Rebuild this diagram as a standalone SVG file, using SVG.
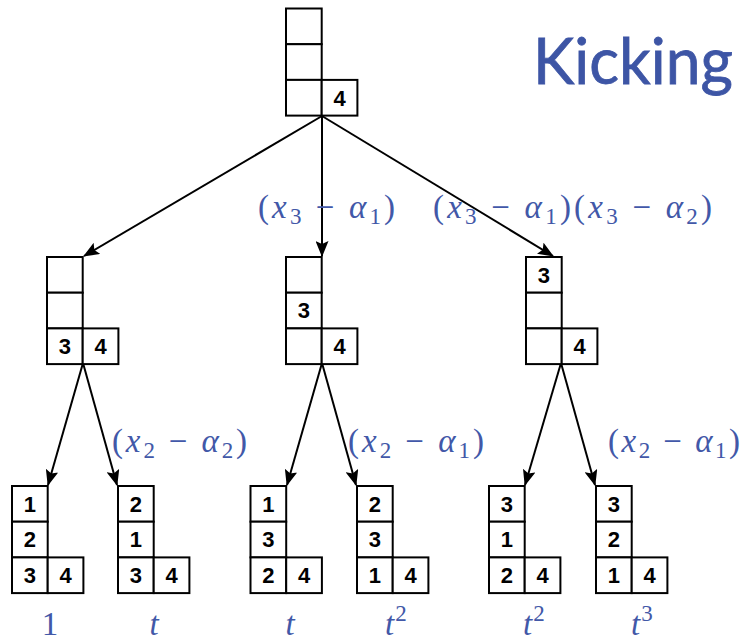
<svg xmlns="http://www.w3.org/2000/svg" width="745" height="642" viewBox="0 0 745 642">
  <style>
    .cell { fill: #ffffff; stroke: #000000; stroke-width: 2; }
    .num { font-family: "Liberation Sans", Arial, sans-serif; font-weight: bold; font-size: 22px; fill: #000000; text-anchor: middle; }
    .edge { stroke: #000000; stroke-width: 2; fill: none; marker-end: url(#arrow); }
    .math { font-family: "Liberation Serif", "Times New Roman", serif; font-size: 33px; fill: #4258a8; }
    .it { font-style: italic; }
    .sub { font-size: 23px; }
    .title { font-family: "Lato", "Liberation Sans", sans-serif; font-size: 64px; fill: #3d55a5; stroke: #3d55a5; stroke-width: 0.8; }
  </style>
  <defs>
    <marker id="arrow" viewBox="0 0 16 13" refX="15" refY="6.5" markerWidth="16" markerHeight="13" markerUnits="userSpaceOnUse" orient="auto">
      <path d="M0,0 L16,6.5 L0,13 L3,6.5 z" fill="#000000"/>
    </marker>
    <!-- hook shape: three cells in the first column, one cell to the right of the bottom one -->
    <g id="hook">
      <rect class="cell" x="0" y="0" width="35.7" height="35.7"/>
      <rect class="cell" x="0" y="35.7" width="35.7" height="35.7"/>
      <rect class="cell" x="0" y="71.4" width="35.7" height="35.7"/>
      <rect class="cell" x="35.7" y="71.4" width="35.7" height="35.7"/>
    </g>
  </defs>

  <rect width="745" height="642" fill="#ffffff"/>

  <text class="title" x="533" y="84" textLength="200" lengthAdjust="spacingAndGlyphs">Kicking</text>

  <!-- connectors -->
  <g id="connectors">
    <line class="edge" x1="322" y1="116" x2="84" y2="256"/>
    <line class="edge" x1="322" y1="116" x2="322" y2="256"/>
    <line class="edge" x1="322" y1="116" x2="553" y2="256"/>
    <line class="edge" x1="83" y1="363" x2="48" y2="485"/>
    <line class="edge" x1="83" y1="363" x2="117" y2="485"/>
    <line class="edge" x1="322" y1="363" x2="287" y2="485"/>
    <line class="edge" x1="322" y1="363" x2="356" y2="485"/>
    <line class="edge" x1="561" y1="363" x2="525" y2="485"/>
    <line class="edge" x1="561" y1="363" x2="595" y2="485"/>
  </g>

  <!-- root -->
  <g id="root" transform="translate(286,8.5)">
    <use href="#hook"/>
    <text class="num" x="53.5" y="97">4</text>
  </g>

  <!-- second level -->
  <g id="mid-left" transform="translate(47,257)">
    <use href="#hook"/>
    <text class="num" x="17.8" y="97">3</text>
    <text class="num" x="53.5" y="97">4</text>
  </g>
  <g id="mid-center" transform="translate(286,257)">
    <use href="#hook"/>
    <text class="num" x="17.8" y="61.3">3</text>
    <text class="num" x="53.5" y="97">4</text>
  </g>
  <g id="mid-right" transform="translate(526,257)">
    <use href="#hook"/>
    <text class="num" x="17.8" y="25.6">3</text>
    <text class="num" x="53.5" y="97">4</text>
  </g>

  <!-- leaves -->
  <g id="leaf-1" transform="translate(12,486)">
    <use href="#hook"/>
    <text class="num" x="17.8" y="25.6">1</text>
    <text class="num" x="17.8" y="61.3">2</text>
    <text class="num" x="17.8" y="97">3</text>
    <text class="num" x="53.5" y="97">4</text>
  </g>
  <g id="leaf-2" transform="translate(118,486)">
    <use href="#hook"/>
    <text class="num" x="17.8" y="25.6">2</text>
    <text class="num" x="17.8" y="61.3">1</text>
    <text class="num" x="17.8" y="97">3</text>
    <text class="num" x="53.5" y="97">4</text>
  </g>
  <g id="leaf-3" transform="translate(250.5,486)">
    <use href="#hook"/>
    <text class="num" x="17.8" y="25.6">1</text>
    <text class="num" x="17.8" y="61.3">3</text>
    <text class="num" x="17.8" y="97">2</text>
    <text class="num" x="53.5" y="97">4</text>
  </g>
  <g id="leaf-4" transform="translate(357,486)">
    <use href="#hook"/>
    <text class="num" x="17.8" y="25.6">2</text>
    <text class="num" x="17.8" y="61.3">3</text>
    <text class="num" x="17.8" y="97">1</text>
    <text class="num" x="53.5" y="97">4</text>
  </g>
  <g id="leaf-5" transform="translate(489,486)">
    <use href="#hook"/>
    <text class="num" x="17.8" y="25.6">3</text>
    <text class="num" x="17.8" y="61.3">1</text>
    <text class="num" x="17.8" y="97">2</text>
    <text class="num" x="53.5" y="97">4</text>
  </g>
  <g id="leaf-6" transform="translate(596,486)">
    <use href="#hook"/>
    <text class="num" x="17.8" y="25.6">3</text>
    <text class="num" x="17.8" y="61.3">2</text>
    <text class="num" x="17.8" y="97">1</text>
    <text class="num" x="53.5" y="97">4</text>
  </g>

  <!-- edge weights -->
  <g id="weights">
    <text class="math" x="258" y="218" textLength="137" lengthAdjust="spacing">(<tspan class="it">x</tspan><tspan class="sub" dy="6">3</tspan><tspan dy="-6"> − </tspan><tspan class="it">α</tspan><tspan class="sub" dy="6">1</tspan><tspan dy="-6">)</tspan></text>
    <text class="math" x="433" y="218" textLength="279" lengthAdjust="spacing">(<tspan class="it">x</tspan><tspan class="sub" dy="6">3</tspan><tspan dy="-6"> − </tspan><tspan class="it">α</tspan><tspan class="sub" dy="6">1</tspan><tspan dy="-6">)(</tspan><tspan class="it">x</tspan><tspan class="sub" dy="6">3</tspan><tspan dy="-6"> − </tspan><tspan class="it">α</tspan><tspan class="sub" dy="6">2</tspan><tspan dy="-6">)</tspan></text>
    <text class="math" x="112" y="452" textLength="135" lengthAdjust="spacing">(<tspan class="it">x</tspan><tspan class="sub" dy="6">2</tspan><tspan dy="-6"> − </tspan><tspan class="it">α</tspan><tspan class="sub" dy="6">2</tspan><tspan dy="-6">)</tspan></text>
    <text class="math" x="348" y="452" textLength="136" lengthAdjust="spacing">(<tspan class="it">x</tspan><tspan class="sub" dy="6">2</tspan><tspan dy="-6"> − </tspan><tspan class="it">α</tspan><tspan class="sub" dy="6">1</tspan><tspan dy="-6">)</tspan></text>
    <text class="math" x="608" y="452" textLength="132" lengthAdjust="spacing">(<tspan class="it">x</tspan><tspan class="sub" dy="6">2</tspan><tspan dy="-6"> − </tspan><tspan class="it">α</tspan><tspan class="sub" dy="6">1</tspan><tspan dy="-6">)</tspan></text>
  </g>

  <!-- leaf weights -->
  <g id="leaf-weights">
    <text class="math" x="50" y="635" text-anchor="middle">1</text>
    <text class="math it" x="154" y="635" text-anchor="middle">t</text>
    <text class="math it" x="290" y="635" text-anchor="middle">t</text>
    <text class="math" x="385" y="635"><tspan class="it">t</tspan><tspan class="sub" dy="-14" dx="1">2</tspan></text>
    <text class="math" x="523" y="635"><tspan class="it">t</tspan><tspan class="sub" dy="-14" dx="1">2</tspan></text>
    <text class="math" x="631" y="635"><tspan class="it">t</tspan><tspan class="sub" dy="-14" dx="1">3</tspan></text>
  </g>
</svg>
